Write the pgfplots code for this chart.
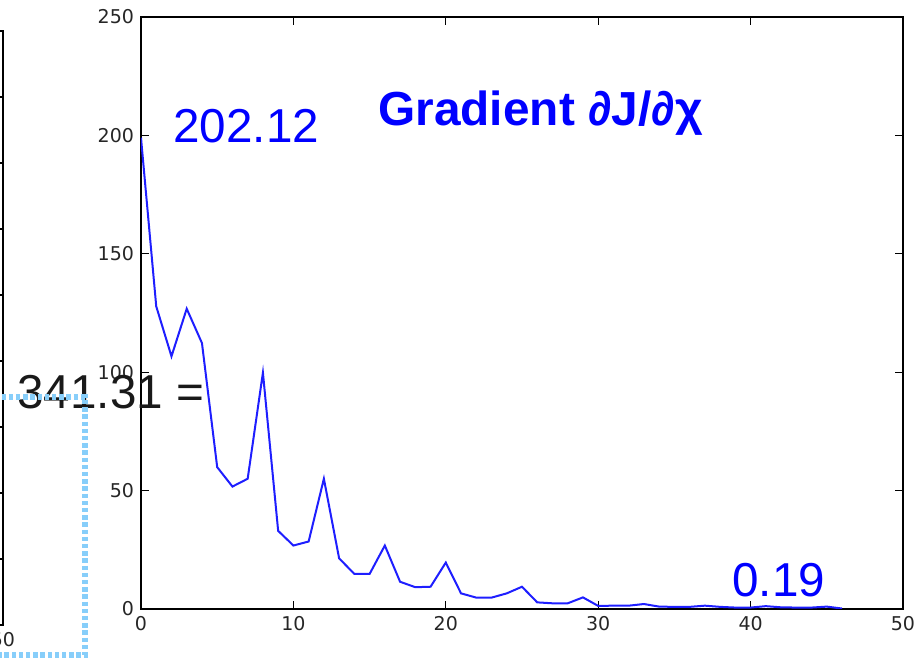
\documentclass[border=0pt]{standalone}
\usepackage{pgfplots}
\pgfplotsset{compat=1.18}
\usepackage{fontspec}
\setmainfont{Liberation Sans}
\newfontfamily\tickfont{DejaVu Sans}
\definecolor{skyb}{HTML}{87CEFA}
\begin{document}
\begin{tikzpicture}[x=1pt,y=1pt]
\useasboundingbox (0,0) rectangle (461.5,329);
\clip (0,0) rectangle (461.5,329);
% partial left axis (cut off)
\begin{axis}[at={(1.5pt,16.5pt)}, anchor=south east, scale only axis,
  width=381pt, height=297pt, xmin=0, xmax=50, ymin=0, ymax=450,
  xtick={0,10,...,50}, ytick={0,50,...,450}, yticklabels={},
  tick align=inside, major tick length=4pt,
  axis line style={line width=0.8pt, black},
  every tick/.style={black, line width=0.6pt},
  /pgf/number format/assume math mode=true,
  ticklabel style={font=\tickfont\fontsize{9.5}{11}\selectfont, text=black!85}]
\end{axis}
% main axis
\begin{axis}[at={(70.5pt,24.5pt)}, anchor=south west, scale only axis,
  width=381pt, height=296pt, xmin=0, xmax=50, ymin=0, ymax=250,
  xtick={0,10,...,50}, ytick={0,50,...,250},
  tick align=inside, major tick length=4pt,
  axis line style={line width=0.8pt, black},
  every tick/.style={black, line width=0.6pt},
  /pgf/number format/assume math mode=true,
  ticklabel style={font=\tickfont\fontsize{9.5}{11}\selectfont, text=black!85}]
\addplot[color={rgb,255:red,30;green,30;blue,255}, line width=1pt, mark=none] coordinates {
(0,199) (1,127.8) (2,106.7) (3,126.8) (4,112.3) (5,59.9) (6,51.7) (7,55.0)
(8,99.8) (9,33.0) (10,26.8) (11,28.5) (12,55.0) (13,21.4) (14,14.8) (15,14.8)
(16,26.8) (17,11.5) (18,9.2) (19,9.4) (20,19.6) (21,6.6) (22,4.8) (23,4.8)
(24,6.6) (25,9.4) (26,2.8) (27,2.4) (28,2.4) (29,4.9) (30,1.3) (31,1.4)
(32,1.4) (33,2.1) (34,1.0) (35,0.9) (36,0.9) (37,1.4) (38,0.9) (39,0.6)
(40,0.6) (41,1.2) (42,0.7) (43,0.6) (44,0.6) (45,1.0) (46,0.19)};
\end{axis}
\node[anchor=base west, inner sep=0, text=blue, font=\fontsize{23.8}{28}\selectfont] at (86.5,257.5) {202.12};
\node[anchor=base west, inner sep=0, text=blue, font=\bfseries\fontsize{23.9}{28}\selectfont] at (189,266) {Gradient ∂J/∂χ};
\node[anchor=base west, inner sep=0, text=blue, font=\fontsize{23.8}{28}\selectfont] at (366,30.5) {0.19};
\node[anchor=base west, inner sep=0, text=black!90, font=\fontsize{23.8}{28}\selectfont] at (8.5,124.5) {341.31 =};
\draw[skyb, line width=2.6pt, dash pattern=on 2.2pt off 1.4pt] (-10,130.5) -- (42.5,130.5) -- (42.5,1.5) -- (-10,1.5);
\end{tikzpicture}
\end{document}
